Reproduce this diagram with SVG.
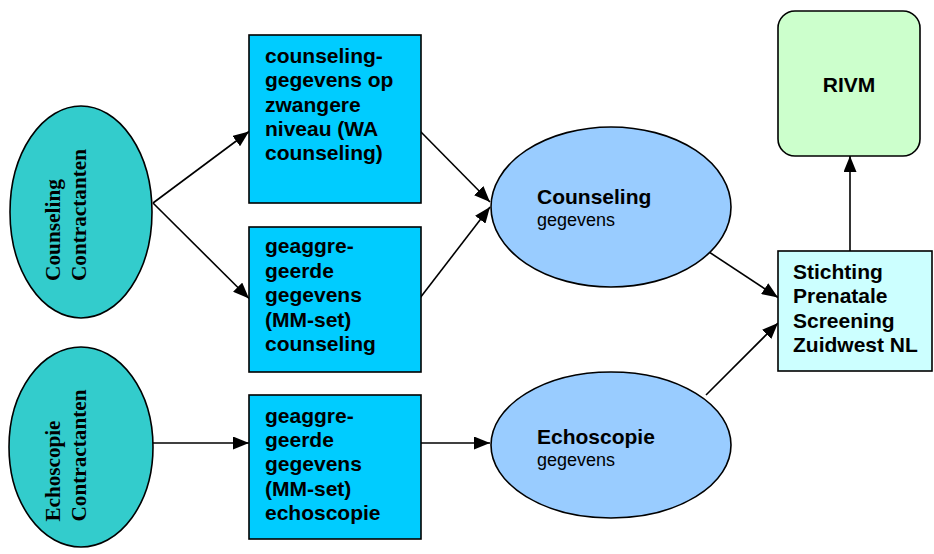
<svg xmlns="http://www.w3.org/2000/svg" width="934" height="554" viewBox="0 0 934 554">
<style>
.shape{stroke:#000;stroke-width:1.6}
.cont{fill:#33CCCC}
.data{fill:#00CCFF}
.agg{fill:#99CCFF}
.t{font-family:"Liberation Sans",Arial,sans-serif;font-weight:bold;font-size:21px;fill:#000}
.r{font-family:"Liberation Sans",Arial,sans-serif;font-size:18px;fill:#000}
.tv{font-family:"Liberation Serif","Times New Roman",serif;font-weight:bold;font-size:20px;fill:#000}
.c{stroke:#000;stroke-width:1.6;fill:none;marker-end:url(#ah)}
</style>
<defs>
<marker id="ah" markerUnits="userSpaceOnUse" markerWidth="16" markerHeight="13" refX="16" refY="6.5" orient="auto" viewBox="0 0 16 13">
<path d="M0,0 L16,6.5 L0,13 z" fill="#000"/>
</marker>
</defs>
<rect width="934" height="554" fill="#fff"/>
<g id="connectors">
<line class="c" x1="153" y1="203" x2="249" y2="131.5"/>
<line class="c" x1="153" y1="203" x2="249" y2="298.5"/>
<line class="c" x1="153" y1="443" x2="249" y2="443"/>
<line class="c" x1="420" y1="131" x2="490" y2="202"/>
<line class="c" x1="420" y1="298" x2="490" y2="207"/>
<line class="c" x1="418" y1="443" x2="490" y2="443"/>
<line class="c" x1="706" y1="250" x2="778" y2="297.5"/>
<line class="c" x1="706" y1="395" x2="778" y2="323"/>
<line class="c" x1="850" y1="251" x2="850" y2="156"/>
</g>
<g id="counseling-contractanten">
<ellipse class="shape cont" cx="81" cy="212" rx="71" ry="106"/>
<text class="tv" transform="translate(60,281) rotate(-90)" textLength="102" lengthAdjust="spacingAndGlyphs">Counseling</text>
<text class="tv" transform="translate(86,281) rotate(-90)" textLength="132" lengthAdjust="spacingAndGlyphs">Contractanten</text>
</g>
<g id="echoscopie-contractanten">
<ellipse class="shape cont" cx="81" cy="447" rx="72" ry="100"/>
<text class="tv" transform="translate(60,521.5) rotate(-90)" textLength="101" lengthAdjust="spacingAndGlyphs">Echoscopie</text>
<text class="tv" transform="translate(86,521.5) rotate(-90)" textLength="132" lengthAdjust="spacingAndGlyphs">Contractanten</text>
</g>
<g id="wa-counseling">
<rect class="shape data" x="249" y="35" width="172" height="168"/>
<text class="t"><tspan x="265" y="63">counseling-</tspan><tspan x="265" y="87">gegevens op</tspan><tspan x="265" y="111.5">zwangere</tspan><tspan x="265" y="136">niveau (WA</tspan><tspan x="265" y="160">counseling)</tspan></text>
</g>
<g id="mm-counseling">
<rect class="shape data" x="249" y="227" width="172" height="145"/>
<text class="t"><tspan x="265" y="253">geaggre-</tspan><tspan x="265" y="277.5">geerde</tspan><tspan x="265" y="302">gegevens</tspan><tspan x="265" y="326.5">(MM-set)</tspan><tspan x="265" y="351">counseling</tspan></text>
</g>
<g id="mm-echoscopie">
<rect class="shape data" x="249" y="395" width="172" height="144"/>
<text class="t"><tspan x="265" y="423">geaggre-</tspan><tspan x="265" y="447">geerde</tspan><tspan x="265" y="471">gegevens</tspan><tspan x="265" y="495.5">(MM-set)</tspan><tspan x="265" y="519.5">echoscopie</tspan></text>
</g>
<g id="counseling-gegevens">
<ellipse class="shape agg" cx="611" cy="207" rx="120" ry="80"/>
<text class="t" x="537" y="204">Counseling</text>
<text class="r" x="537" y="226">gegevens</text>
</g>
<g id="echoscopie-gegevens">
<ellipse class="shape agg" cx="611" cy="445" rx="120" ry="73"/>
<text class="t" x="537" y="444">Echoscopie</text>
<text class="r" x="537" y="466">gegevens</text>
</g>
<g id="stichting">
<rect class="shape" fill="#CCFFFF" x="778" y="251" width="154" height="120"/>
<text class="t"><tspan x="793" y="278.5">Stichting</tspan><tspan x="793" y="303">Prenatale</tspan><tspan x="793" y="327.5">Screening</tspan><tspan x="793" y="352">Zuidwest NL</tspan></text>
</g>
<g id="rivm">
<rect class="shape" fill="#CCFFCC" x="778" y="11" width="142" height="145" rx="17"/>
<text class="t" x="849" y="91.5" text-anchor="middle">RIVM</text>
</g>
</svg>
